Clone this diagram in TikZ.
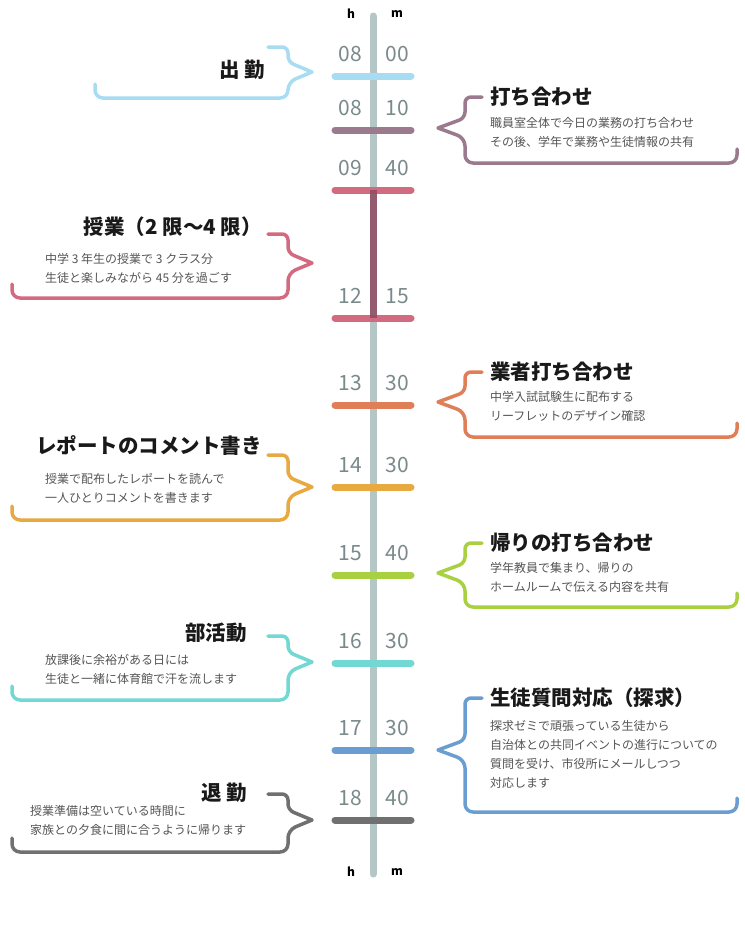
\documentclass[tikz,border=0pt]{standalone}
\usepackage{fontspec}
\setmainfont{Noto Sans CJK JP}
\definecolor{cBlue}{HTML}{A8DCF2}
\definecolor{cPurp}{HTML}{9A7A8C}
\definecolor{cPink}{HTML}{D26A80}
\definecolor{cDark}{HTML}{8E4A60}
\definecolor{cOrng}{HTML}{E07E58}
\definecolor{cYell}{HTML}{E8AA40}
\definecolor{cGren}{HTML}{A8D040}
\definecolor{cCyan}{HTML}{72D8D4}
\definecolor{cSBlu}{HTML}{6A9ED0}
\definecolor{cGray}{HTML}{707070}
\definecolor{cAxis}{HTML}{B4C6C6}
\definecolor{cNum}{HTML}{7A8A8A}
\definecolor{cTxt}{HTML}{555555}
\tikzset{
  tickline/.style={line width=7pt,line cap=round},
  num/.style={text=cNum,font=\fontsize{21}{21}\selectfont,inner sep=0pt},
  hm/.style={font=\fontsize{12}{12}\selectfont\bfseries,inner sep=0pt},
  title/.style={font=\fontsize{20.5}{21}\selectfont\bfseries,inner sep=0pt,text=black!90},
  body/.style={font=\fontsize{12}{19}\selectfont,text=cTxt,inner sep=0pt,align=left,anchor=north west},
  brace/.style={line width=3.5pt,rounded corners=6pt,line cap=round,line join=round}
}
\newcommand{\tmark}[5]{% name, y, color, hh, mm
  \draw[tickline,#3] (335,#2) -- (411,#2);
  \node[num] (#1h) at (350,#2-22) {#4};
  \node[num] (#1m) at (397,#2-22) {#5};
}
\newcommand{\lbrk}[5]{% yt, yp, yb, xl, color
  \draw[brace,#5] (268,#1) -- (288,#1) -- (288,#2-10) [sharp corners] -- (312,#2) [rounded corners=8pt] -- (288,#2+10) -- (288,#3) -- (#4,#3) -- (#4,#3-14);
}
\newcommand{\rbrk}[5]{% yt, yp, yb, xr, color
  \draw[brace,#5] (482,#1) -- (465,#1) -- (465,#2-10) [sharp corners] -- (438,#2) [rounded corners=8pt] -- (465,#2+10) -- (465,#3) -- (#4,#3) -- (#4,#3-14);
}
\begin{document}
\begin{tikzpicture}[x=1pt,y=-1pt]
\useasboundingbox[fill=white] (0,0) rectangle (745,930);
\draw[line width=7pt,line cap=round,cAxis] (373,16) coordinate (top) -- (373,874) coordinate (bot);
\node[hm] (h1) at (351,14) {h};
\node[hm] (m1) at (397,14) {m};
\node[hm] (h2) at (351,872) {h};
\node[hm] (m2) at (397,872) {m};
% ticks
\tmark{a}{76}{cBlue}{08}{00}
\tmark{b}{130}{cPurp}{08}{10}
\tmark{c}{190}{cPink}{09}{40}
\tmark{d}{318}{cPink}{12}{15}
\tmark{e}{405}{cOrng}{13}{30}
\tmark{f}{487}{cYell}{14}{30}
\tmark{g}{575}{cGren}{15}{40}
\tmark{k}{663}{cCyan}{16}{30}
\tmark{l}{750}{cSBlu}{17}{30}
\tmark{n}{820}{cGray}{18}{40}
\draw[line width=7pt,cDark,opacity=0.85] (373,190) -- (373,318);
% 1
\lbrk{47}{72}{98}{95}{cBlue}
\node[title,anchor=east] (t1) at (265,70) {出 勤};
% 2
\rbrk{97}{128}{163}{737}{cPurp}
\node[title,anchor=west] (t2) at (490,97) {打ち合わせ};
\node[body] (b2) at (490,117) {職員室全体で今日の業務の打ち合わせ\\その後、学年で業務や生徒情報の共有};
% 3
\lbrk{234}{263}{298}{12}{cPink}
\node[title,anchor=east] (t3) at (262,227) {授業（2 限～4 限）};
\node[body] (b3) at (45,253) {中学 3 年生の授業で 3 クラス分\\生徒と楽しみながら 45 分を過ごす};
% 4
\rbrk{372}{402}{437}{737}{cOrng}
\node[title,anchor=west] (t4) at (490,372) {業者打ち合わせ};
\node[body] (b4) at (490,391) {中学入試試験生に配布する\\リーフレットのデザイン確認};
% 5
\lbrk{455}{487}{520}{12}{cYell}
\node[title,anchor=east] (t5) at (262,446) {レポートのコメント書き};
\node[body] (b5) at (45,473) {授業で配布したレポートを読んで\\一人ひとりコメントを書きます};
% 6
\rbrk{543}{573}{607}{737}{cGren}
\node[title,anchor=west] (t6) at (490,543) {帰りの打ち合わせ};
\node[body] (b6) at (490,562) {学年教員で集まり、帰りの\\ホームルームで伝える内容を共有};
% 7
\lbrk{636}{662}{700}{12}{cCyan}
\node[title,anchor=east] (t7) at (247,633) {部活動};
\node[body] (b7) at (45,654) {放課後に余裕がある日には\\生徒と一緒に体育館で汗を流します};
% 8
\rbrk{698}{750}{812}{737}{cSBlu}
\node[title,anchor=west] (t8) at (490,698) {生徒質問対応（探求）};
\node[body] (b8) at (490,720) {探求ゼミで頑張っている生徒から\\自治体との共同イベントの進行についての\\質問を受け、市役所にメールしつつ\\対応します};
% 9
\lbrk{794}{820}{852}{12}{cGray}
\node[title,anchor=east] (t9) at (247,793) {退 勤};
\node[body] (b9) at (30,805) {授業準備は空いている時間に\\家族との夕食に間に合うように帰ります};
\end{tikzpicture}
\end{document}
